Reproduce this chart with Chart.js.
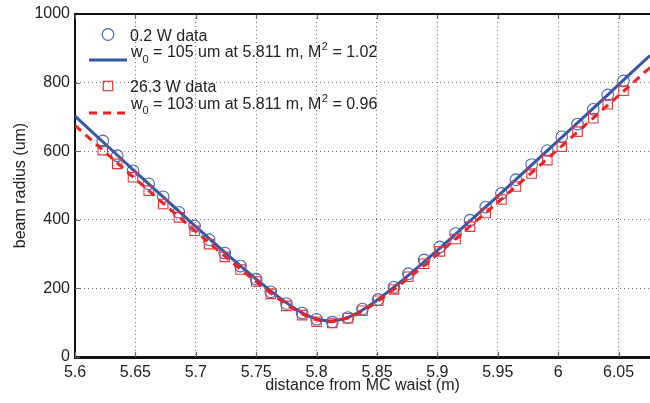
<!DOCTYPE html>
<html>
<head>
<meta charset="utf-8">
<script src="https://cdn.jsdelivr.net/npm/chart.js@4/dist/chart.umd.min.js"></script>
<style>
  html, body { margin: 0; padding: 0; background: #ffffff; }
  #wrap { width: 650px; height: 403px; }
</style>
</head>
<body>
<div id="wrap"><canvas id="c" width="650" height="403"></canvas></div>
<script>
// ---- data ----
const positions = [5.623, 5.635, 5.648, 5.661, 5.673, 5.686, 5.699, 5.711, 5.724, 5.737,
                   5.750, 5.762, 5.775, 5.788, 5.800, 5.813, 5.826, 5.838, 5.851, 5.864,
                   5.876, 5.889, 5.902, 5.915, 5.927, 5.940, 5.953, 5.965, 5.978, 5.991,
                   6.003, 6.016, 6.029, 6.041, 6.054];
const lowPowerRadius = [630, 587, 543, 505, 467, 422, 382, 342, 303, 265,
                        227, 190, 156, 128, 110, 102, 115, 140, 168, 203,
                        243, 283, 321, 360, 399, 437, 477, 517, 561, 602,
                        642, 679, 722, 764, 805];
const highPowerRadius = [603, 563, 524, 485, 446, 407, 368, 329, 292, 255,
                         220, 184, 149, 122, 103, 99, 113, 135, 164, 197,
                         234, 272, 308, 344, 380, 420, 459, 497, 535, 574,
                         613, 657, 696, 737, 776];
const fitPositions = [5.600, 5.625, 5.650, 5.675, 5.700, 5.725, 5.750, 5.770, 5.785, 5.795,
                      5.805, 5.811, 5.817, 5.827, 5.837, 5.852, 5.875, 5.900, 5.925, 5.950,
                      5.975, 6.000, 6.025, 6.050, 6.076];
const lowPowerFit = [702, 621, 540, 460, 380, 302, 227, 171, 135, 117,
                     107, 105, 107, 117, 135, 171, 235, 311, 390, 469,
                     550, 631, 712, 794, 879];
const highPowerFit = [675, 597, 519, 442, 366, 291, 219, 166, 132, 115,
                      105, 103, 105, 115, 132, 166, 227, 299, 375, 451,
                      528, 606, 684, 762, 844];
const xTicks = [5.6, 5.65, 5.7, 5.75, 5.8, 5.85, 5.9, 5.95, 6.0, 6.05];
const yTicks = [0, 200, 400, 600, 800, 1000];
const seriesNames = ['0.2 W data', '26.3 W data'];
const fitNames = [
  ['w', '0', ' = 105 um at 5.811 m, M', '2', ' = 1.02'],
  ['w', '0', ' = 103 um at 5.811 m, M', '2', ' = 0.96']
];

const FONT = '"Liberation Sans", Arial, Helvetica, sans-serif';
const BLUE = '#3656a8';
const BLUE_MK = '#4a66b8';
const RED = '#ee2222';
const RED_MK = '#ee3535';

function pts(xs, ys) { return xs.map((x, i) => ({ x: x, y: ys[i] })); }

const frameTicksPlugin = {
  id: 'frameTicks',
  beforeDatasetsDraw(chart) {
    const ctx = chart.ctx;
    const ca = chart.chartArea;
    const sx = chart.scales.x, sy = chart.scales.y;
    ctx.save();
    ctx.strokeStyle = '#666';
    ctx.lineWidth = 1.2;
    ctx.beginPath();
    xTicks.forEach(v => {
      const px = Math.round(sx.getPixelForValue(v)) + 0.5;
      ctx.moveTo(px, ca.bottom); ctx.lineTo(px, ca.bottom - 5);
      ctx.moveTo(px, ca.top); ctx.lineTo(px, ca.top + 5);
    });
    yTicks.forEach(v => {
      const py = Math.round(sy.getPixelForValue(v)) + 0.5;
      ctx.moveTo(ca.left, py); ctx.lineTo(ca.left + 5, py);
    });
    ctx.stroke();
    ctx.restore();
  }
};

const legendPlugin = {
  id: 'customLegend',
  afterDatasetsDraw(chart) {
    const ctx = chart.ctx;
    const ca = chart.chartArea;
    ctx.save();
    // top border
    ctx.strokeStyle = '#111';
    ctx.lineWidth = 2;
    ctx.beginPath();
    ctx.moveTo(ca.left, ca.top);
    ctx.lineTo(ca.right, ca.top);
    ctx.stroke();

    // markers
    ctx.lineWidth = 1.2;
    ctx.strokeStyle = BLUE_MK;
    ctx.beginPath();
    ctx.arc(108, 34.5, 5.8, 0, Math.PI * 2);
    ctx.stroke();
    ctx.strokeStyle = RED_MK;
    ctx.strokeRect(103.3, 81.3, 9.4, 9.4);
    // line samples
    ctx.lineWidth = 3;
    ctx.strokeStyle = BLUE;
    ctx.beginPath(); ctx.moveTo(89, 60); ctx.lineTo(127, 60); ctx.stroke();
    ctx.strokeStyle = RED;
    ctx.setLineDash([8, 6]);
    ctx.beginPath(); ctx.moveTo(89, 113); ctx.lineTo(127, 113); ctx.stroke();
    ctx.setLineDash([]);

    // texts
    ctx.fillStyle = '#222';
    ctx.textBaseline = 'alphabetic';
    ctx.textAlign = 'left';
    const big = '16px ' + FONT, small = '11px ' + FONT;
    ctx.font = big;
    ctx.fillText(seriesNames[0], 130, 40.5);
    ctx.fillText(seriesNames[1], 130, 91.5);
    const drawFit = (parts, x, base) => {
      ctx.font = big; ctx.fillText(parts[0], x, base); x += ctx.measureText(parts[0]).width;
      ctx.font = small; ctx.fillText(parts[1], x, base + 5.5); x += ctx.measureText(parts[1]).width;
      ctx.font = big; ctx.fillText(parts[2], x, base); x += ctx.measureText(parts[2]).width;
      ctx.font = small; ctx.fillText(parts[3], x + 0.5, base - 7); x += ctx.measureText(parts[3]).width + 0.5;
      ctx.font = big; ctx.fillText(parts[4], x, base);
    };
    drawFit(fitNames[0], 131, 57);
    drawFit(fitNames[1], 131, 108.5);
    ctx.restore();
  }
};

new Chart(document.getElementById('c'), {
  type: 'scatter',
  data: {
    datasets: [
      {
        label: seriesNames[0],
        data: pts(positions, lowPowerRadius),
        pointStyle: 'circle',
        pointRadius: 5.8,
        pointBorderColor: BLUE_MK,
        pointBackgroundColor: 'rgba(0,0,0,0)',
        pointBorderWidth: 1.1,
        showLine: false,
        order: 4
      },
      {
        label: 'fit 0.2 W',
        data: pts(fitPositions, lowPowerFit),
        showLine: true,
        pointRadius: 0,
        borderColor: BLUE,
        borderWidth: 3,
        cubicInterpolationMode: 'monotone',
        order: 3
      },
      {
        label: seriesNames[1],
        data: pts(positions, highPowerRadius),
        pointStyle: 'rect',
        pointRadius: 6.7,
        pointBorderColor: RED_MK,
        pointBackgroundColor: 'rgba(0,0,0,0)',
        pointBorderWidth: 1.1,
        showLine: false,
        order: 2
      },
      {
        label: 'fit 26.3 W',
        data: pts(fitPositions, highPowerFit),
        showLine: true,
        pointRadius: 0,
        borderColor: RED,
        borderWidth: 3,
        borderDash: [8, 6],
        cubicInterpolationMode: 'monotone',
        order: 1
      }
    ]
  },
  options: {
    responsive: false,
    animation: false,
    devicePixelRatio: 1,
    layout: { autoPadding: false, padding: { top: 14, right: 0, bottom: 0, left: 0 } },
    plugins: {
      legend: { display: false },
      tooltip: { enabled: false },
      title: { display: false }
    },
    scales: {
      x: {
        type: 'linear',
        min: 5.6,
        max: 6.076,
        afterBuildTicks: (s) => { s.ticks = xTicks.map(v => ({ value: v })); },
        afterFit: (s) => { s.height = 46; s.paddingLeft = 0; s.paddingRight = 0; },
        ticks: {
          color: '#222',
          font: { family: FONT, size: 16 },
          padding: 6,
          maxRotation: 0,
          autoSkip: false,
          callback: (v) => String(Number(Number(v).toFixed(2)))
        },
        grid: { color: '#777', lineWidth: 1, drawTicks: false },
        border: { display: true, color: '#111', width: 3, dash: [1, 3] },
        title: {
          display: true,
          text: 'distance from MC waist (m)',
          color: '#222',
          font: { family: FONT, size: 16 },
          padding: { top: 0, bottom: 8 }
        }
      },
      y: {
        type: 'linear',
        min: 0,
        max: 1000,
        afterBuildTicks: (s) => { s.ticks = yTicks.map(v => ({ value: v })); },
        afterFit: (s) => { s.width = 75; s.paddingTop = 0; s.paddingBottom = 0; },
        ticks: {
          color: '#222',
          font: { family: FONT, size: 16 },
          padding: 5,
          callback: (v) => String(v)
        },
        grid: { color: '#777', lineWidth: 1, drawTicks: false },
        border: { display: true, color: '#111', width: 2, dash: [1, 3] },
        title: {
          display: true,
          text: 'beam radius (um)',
          color: '#222',
          font: { family: FONT, size: 16 },
          padding: { top: 11, bottom: 0 }
        }
      }
    }
  },
  plugins: [frameTicksPlugin, legendPlugin]
});
</script>
</body>
</html>
